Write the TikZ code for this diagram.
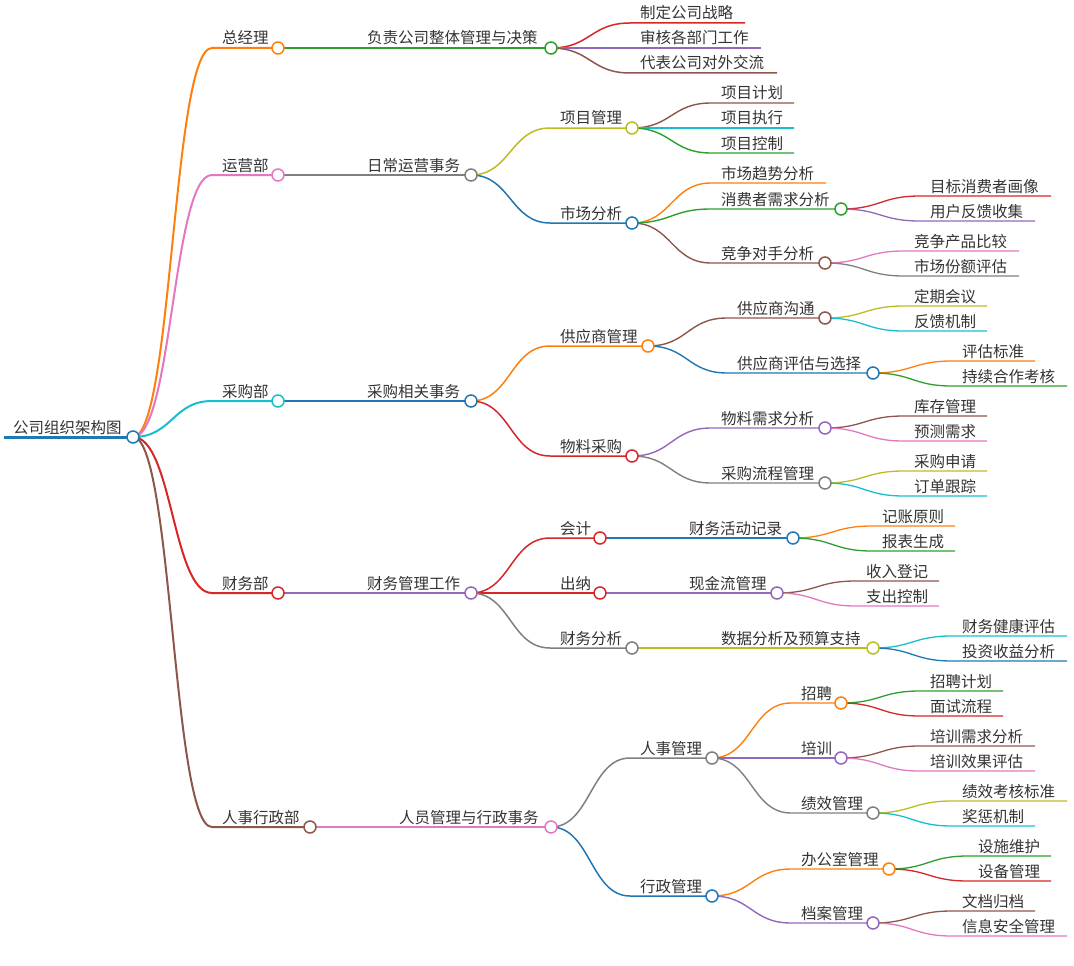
\documentclass[tikz,border=0pt]{standalone}
\usepackage{fontspec}
\setmainfont{Noto Sans CJK SC}
\usetikzlibrary{calc}
\pgfdeclarelayer{bg}
\pgfsetlayers{bg,main}
\definecolor{cblue}{HTML}{1F77B4}
\definecolor{corange}{HTML}{FF7F0E}
\definecolor{cgreen}{HTML}{2CA02C}
\definecolor{cred}{HTML}{D62728}
\definecolor{cpurple}{HTML}{9467BD}
\definecolor{cbrown}{HTML}{8C564B}
\definecolor{cpink}{HTML}{E377C2}
\definecolor{cgray}{HTML}{7F7F7F}
\definecolor{colive}{HTML}{BCBD22}
\definecolor{ccyan}{HTML}{17BECF}
\definecolor{ctext}{HTML}{333333}
\tikzset{
  txt/.style={anchor=base west, inner sep=0pt, text=ctext, font=\fontsize{15.5}{18}\selectfont},
  dot/.style={circle, minimum size=12pt, inner sep=0pt, fill=white, line width=1.5pt}
}
% inner node: name, parent, text x, y, circle x, colour, width, text
\newcommand\mmI[8]{%
  \node[dot, draw=#6] (#1) at (#5,#4) {};
  \node[txt] (#1-t) at (#3,#4-4) {#8};
  \coordinate (#1-s) at (#3-10,#4);
  \begin{pgfonlayer}{bg}
  \draw[#6, line width=#7] let \p1=(#2.center), \p2=(#1-s) in
    (\p1) .. controls ({0.5*\x1+0.5*\x2},\y1) and ({0.5*\x1+0.5*\x2},\y2) .. (\p2) -- (#1.center);
  \end{pgfonlayer}}
% leaf node
\newcommand\mmL[8]{%
  \coordinate (#1) at (#5,#4);
  \node[txt] (#1-t) at (#3,#4-4) {#8};
  \coordinate (#1-s) at (#3-10,#4);
  \begin{pgfonlayer}{bg}
  \draw[#6, line width=#7] let \p1=(#2.center), \p2=(#1-s) in
    (\p1) .. controls ({0.5*\x1+0.5*\x2},\y1) and ({0.5*\x1+0.5*\x2},\y2) .. (\p2) -- (#1);
  \end{pgfonlayer}}
\begin{document}
\begin{tikzpicture}[x=1pt,y=-1pt]
\useasboundingbox (0,0) rectangle (1074,966);
% root
\node[dot, draw=cblue] (r) at (133,437) {};
\node[txt] (r-t) at (13,433) {公司组织架构图};
\coordinate (r-s) at (4,437);
\begin{pgfonlayer}{bg}
\draw[cblue, line width=3pt] (r-s) -- (r.center);
\end{pgfonlayer}
% depth 1
\mmI{a}{r}{222}{48}{278}{corange}{2pt}{总经理}
\mmI{b}{r}{222}{175}{278}{cpink}{2pt}{运营部}
\mmI{c}{r}{222}{401}{278}{ccyan}{2pt}{采购部}
\mmI{d}{r}{222}{593}{278}{cred}{2pt}{财务部}
\mmI{e}{r}{222}{827}{310}{cbrown}{2pt}{人事行政部}
% depth 2
\mmI{a1}{a}{367}{48}{551}{cgreen}{1.6pt}{负责公司整体管理与决策}
\mmI{b1}{b}{367}{175}{471}{cgray}{1.6pt}{日常运营事务}
\mmI{c1}{c}{367}{401}{471}{cblue}{1.6pt}{采购相关事务}
\mmI{d1}{d}{367}{593}{471}{cpurple}{1.6pt}{财务管理工作}
\mmI{e1}{e}{399}{827}{551}{cpink}{1.6pt}{人员管理与行政事务}
% depth 3
\mmL{a11}{a1}{640}{23}{745}{cred}{1.5pt}{制定公司战略}
\mmL{a12}{a1}{640}{48}{761}{cpurple}{1.5pt}{审核各部门工作}
\mmL{a13}{a1}{640}{73}{777}{cbrown}{1.5pt}{代表公司对外交流}
\mmI{b11}{b1}{560}{128}{632}{colive}{1.5pt}{项目管理}
\mmI{b12}{b1}{560}{223}{632}{cblue}{1.5pt}{市场分析}
\mmI{c11}{c1}{560}{346}{648}{corange}{1.5pt}{供应商管理}
\mmI{c12}{c1}{560}{456}{632}{cred}{1.5pt}{物料采购}
\mmI{d11}{d1}{560}{538}{600}{cred}{1.5pt}{会计}
\mmI{d12}{d1}{560}{593}{600}{cred}{1.5pt}{出纳}
\mmI{d13}{d1}{560}{648}{632}{cgray}{1.5pt}{财务分析}
\mmI{e11}{e1}{640}{758}{712}{cgray}{1.5pt}{人事管理}
\mmI{e12}{e1}{640}{896}{712}{cblue}{1.5pt}{行政管理}
% depth 4
\mmL{b111}{b11}{721}{103}{794}{cbrown}{1.4pt}{项目计划}
\mmL{b112}{b11}{721}{128}{794}{ccyan}{1.4pt}{项目执行}
\mmL{b113}{b11}{721}{153}{794}{cgreen}{1.4pt}{项目控制}
\mmL{b121}{b12}{721}{183}{826}{corange}{1.4pt}{市场趋势分析}
\mmI{b122}{b12}{721}{209}{841}{cgreen}{1.4pt}{消费者需求分析}
\mmI{b123}{b12}{721}{263}{825}{cbrown}{1.4pt}{竞争对手分析}
\mmI{c111}{c11}{737}{318}{825}{cbrown}{1.4pt}{供应商沟通}
\mmI{c112}{c11}{737}{373}{873}{cblue}{1.4pt}{供应商评估与选择}
\mmI{c121}{c12}{721}{428}{825}{cpurple}{1.4pt}{物料需求分析}
\mmI{c122}{c12}{721}{483}{825}{cgray}{1.4pt}{采购流程管理}
\mmI{d111}{d11}{689}{538}{793}{cblue}{1.4pt}{财务活动记录}
\mmI{d121}{d12}{689}{593}{777}{cpurple}{1.4pt}{现金流管理}
\mmI{d131}{d13}{721}{648}{873}{colive}{1.4pt}{数据分析及预算支持}
\mmI{e111}{e11}{801}{703}{841}{corange}{1.4pt}{招聘}
\mmI{e112}{e11}{801}{758}{841}{cpurple}{1.4pt}{培训}
\mmI{e113}{e11}{801}{813}{873}{cgray}{1.4pt}{绩效管理}
\mmI{e121}{e12}{801}{869}{889}{corange}{1.4pt}{办公室管理}
\mmI{e122}{e12}{801}{923}{873}{cpurple}{1.4pt}{档案管理}
% depth 5
\mmL{b1221}{b122}{930}{196}{1051}{cred}{1.3pt}{目标消费者画像}
\mmL{b1222}{b122}{930}{221}{1035}{cpurple}{1.3pt}{用户反馈收集}
\mmL{b1231}{b123}{914}{251}{1019}{cpink}{1.3pt}{竞争产品比较}
\mmL{b1232}{b123}{914}{276}{1019}{cgray}{1.3pt}{市场份额评估}
\mmL{c1111}{c111}{914}{306}{987}{colive}{1.3pt}{定期会议}
\mmL{c1112}{c111}{914}{331}{987}{ccyan}{1.3pt}{反馈机制}
\mmL{c1121}{c112}{962}{361}{1035}{corange}{1.3pt}{评估标准}
\mmL{c1122}{c112}{962}{386}{1067}{cgreen}{1.3pt}{持续合作考核}
\mmL{c1211}{c121}{914}{416}{987}{cbrown}{1.3pt}{库存管理}
\mmL{c1212}{c121}{914}{441}{987}{cpink}{1.3pt}{预测需求}
\mmL{c1221}{c122}{914}{471}{987}{colive}{1.3pt}{采购申请}
\mmL{c1222}{c122}{914}{496}{987}{ccyan}{1.3pt}{订单跟踪}
\mmL{d1111}{d111}{882}{526}{955}{corange}{1.3pt}{记账原则}
\mmL{d1112}{d111}{882}{551}{955}{cgreen}{1.3pt}{报表生成}
\mmL{d1211}{d121}{866}{581}{939}{cbrown}{1.3pt}{收入登记}
\mmL{d1212}{d121}{866}{606}{939}{cpink}{1.3pt}{支出控制}
\mmL{d1311}{d131}{962}{636}{1067}{ccyan}{1.3pt}{财务健康评估}
\mmL{d1312}{d131}{962}{661}{1067}{cblue}{1.3pt}{投资收益分析}
\mmL{e1111}{e111}{930}{691}{1003}{cgreen}{1.3pt}{招聘计划}
\mmL{e1112}{e111}{930}{716}{1003}{cred}{1.3pt}{面试流程}
\mmL{e1121}{e112}{930}{746}{1035}{cbrown}{1.3pt}{培训需求分析}
\mmL{e1122}{e112}{930}{771}{1035}{cpink}{1.3pt}{培训效果评估}
\mmL{e1131}{e113}{962}{801}{1067}{colive}{1.3pt}{绩效考核标准}
\mmL{e1132}{e113}{962}{826}{1035}{ccyan}{1.3pt}{奖惩机制}
\mmL{e1211}{e121}{978}{856}{1051}{cgreen}{1.3pt}{设施维护}
\mmL{e1212}{e121}{978}{881}{1051}{cred}{1.3pt}{设备管理}
\mmL{e1221}{e122}{962}{911}{1035}{cbrown}{1.3pt}{文档归档}
\mmL{e1222}{e122}{962}{936}{1067}{cpink}{1.3pt}{信息安全管理}
\end{tikzpicture}
\end{document}
